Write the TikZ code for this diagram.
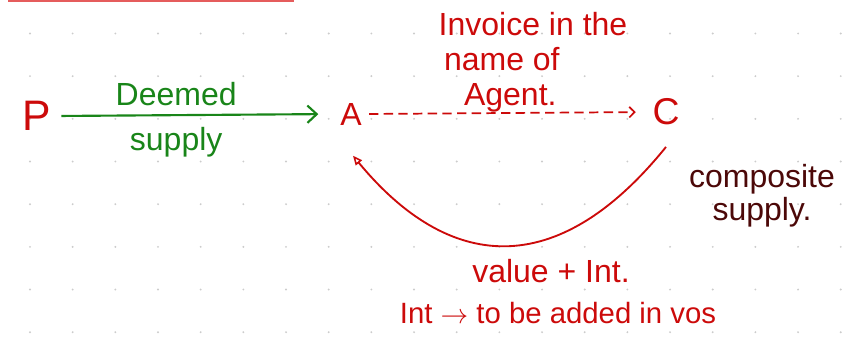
\documentclass[tikz,border=0pt]{standalone}
\usepackage{fontspec}
\setmainfont{Liberation Sans}
\usetikzlibrary{arrows.meta,calc}
\definecolor{inkred}{rgb}{0.80,0.04,0.04}
\definecolor{inkgreen}{rgb}{0.10,0.52,0.10}
\definecolor{inkmaroon}{rgb}{0.30,0.03,0.03}
\definecolor{dotgrey}{rgb}{0.80,0.80,0.80}
\definecolor{rulered}{rgb}{0.90,0.36,0.36}

\tikzset{
  hand/.style={font=\fontsize{24}{25}\selectfont},
  party/.style={font=\fontsize{#1}{#1}\selectfont, text=inkred},
}

\begin{document}
\begin{tikzpicture}[x=0.75pt,y=-0.75pt]

           \useasboundingbox (0,0) rectangle (845,336);

           % dotted page
           \foreach \i in {0,...,19}
             \foreach \j in {0,...,7}
               \fill [dotgrey] (30+42.67*\i, 33.5+42.67*\j) circle (0.8pt);
           \draw [rulered,line width= 1.5pt] (8,1) -- (294,1);

           \node [party=32] (P) at (37,116) {P};
           \node [party=24] (A) at (351,114) {A};
           \node [party=28] (C) at (666,112) {C};

           \draw [inkgreen,line width= 1.6pt,-{Straight Barb[length=7pt,width=13pt,line width=1.6pt]},shorten <=4pt,shorten >=13pt] (P.east) -- (A.west)
                 node [hand,inkgreen,pos=0.43,above=3pt] (deemed) {Deemed}
                 node [hand,inkgreen,pos=0.43,below=5pt] (supply) {supply};

           \draw [inkred,line width= 1.3pt,dash pattern=on 7pt off 4pt,-{Straight Barb[length=4pt,width=8pt,line width=1.3pt]},shorten <=2pt,shorten >=9pt] (A.east) -- (C.west);

           \node [hand,inkred,align=left,anchor=north west] (invoice) at (434,8)
                 {Invoice in the\\[1pt]\hspace*{4pt}name of\\[1pt]\hspace*{19pt}Agent.};

           % return leg, C back to A
           \draw [inkred,line width= 1.4pt,-{Triangle[open,length=7pt,width=6pt,line width=1.2pt]}]
                 (C.south) ++(0,17) .. controls +(-110,136) and +(95,115) .. ($(A.south)+(2,26)$);

           \node [hand,inkmaroon,align=center] (composite) at (762,196) {composite\\supply.};

           \node [hand,inkred] (value) at (551,271) {value + Int.};
           \node [hand,inkred,font=\fontsize{22}{24}\selectfont] (note) at (558,313) {Int $\rightarrow$ to be added in vos};

\end{tikzpicture}
\end{document}
